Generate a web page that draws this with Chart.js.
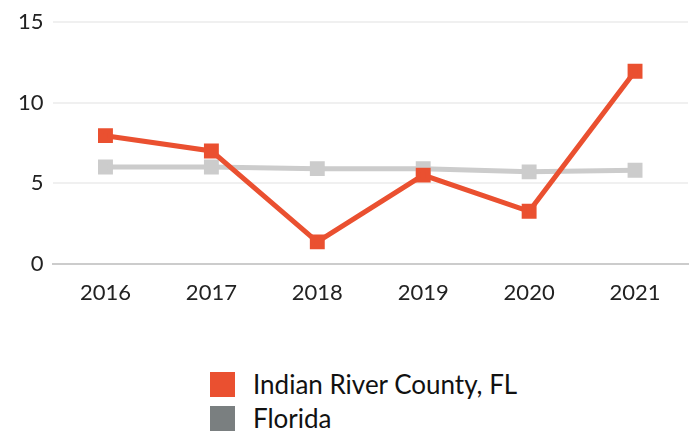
<!DOCTYPE html>
<html>
<head>
<meta charset="utf-8">
<script src="https://cdn.jsdelivr.net/npm/chart.js@4"></script>
<style>
  html, body { margin: 0; background: #fff; font-family: Lato, sans-serif; overflow: hidden; }
  #wrap { position: relative; width: 700px; height: 318px; }
  #legend { position: absolute; left: 210px; top: 367px; }
  .item { display: flex; align-items: center; height: 34px; font-size: 26px; color: #111; }
  .box { width: 25px; height: 25px; margin-right: 18px; }
</style>
</head>
<body>
<div id="wrap"><canvas id="myChart"></canvas></div>
<div id="legend"></div>
<script>
const ctx = document.getElementById("myChart").getContext("2d");

const years = ["2016", "2017", "2018", "2019", "2020", "2021"];
const indianRiver = [7.95, 7.0, 1.35, 5.5, 3.25, 11.95];
const florida = [6.0, 6.0, 5.9, 5.9, 5.7, 5.8];

const legendColors = ["#ea5030", "#7a7f80"];

const data = {
  labels: years,
  datasets: [
    {
      label: "Florida",
      data: florida,
      borderColor: "#cccccc",
      backgroundColor: "#cccccc",
      borderWidth: 5,
      pointStyle: "rect",
      pointRadius: 7,
      order: 2,
    },
    {
      label: "Indian River County, FL",
      data: indianRiver,
      borderColor: "#ea5030",
      backgroundColor: "#ea5030",
      borderWidth: 5,
      pointStyle: "rect",
      pointRadius: 7,
      order: 1,
    },
  ],
};

const config = {
  type: "line",
  data: data,
  options: {
    responsive: true,
    maintainAspectRatio: false,
    animation: false,
    layout: { padding: { top: 0, left: 9, right: 4, bottom: 4 } },
    plugins: { legend: { display: false }, tooltip: { enabled: false } },
    scales: {
      x: {
        offset: true,
        grid: { display: false },
        border: { color: "#cccccc", width: 2 },
        ticks: { color: "#222", font: { family: "Lato", size: 22 }, padding: 8 },
      },
      y: {
        min: 0,
        max: 15,
        ticks: { stepSize: 5, color: "#222", font: { family: "Lato", size: 22 }, padding: 9 },
        grid: { color: "#f0f0f0", lineWidth: 2, drawTicks: false },
        border: { display: false },
      },
    },
  },
};

const myChart = new Chart(ctx, config);

// legend, listed top to bottom like the original
const legendEl = document.getElementById("legend");
[1, 0].forEach((i, k) => {
  const row = document.createElement("div");
  row.className = "item";
  const box = document.createElement("span");
  box.className = "box";
  box.style.background = legendColors[k];
  row.appendChild(box);
  row.appendChild(document.createTextNode(data.datasets[i].label));
  legendEl.appendChild(row);
});
</script>
</body>
</html>
